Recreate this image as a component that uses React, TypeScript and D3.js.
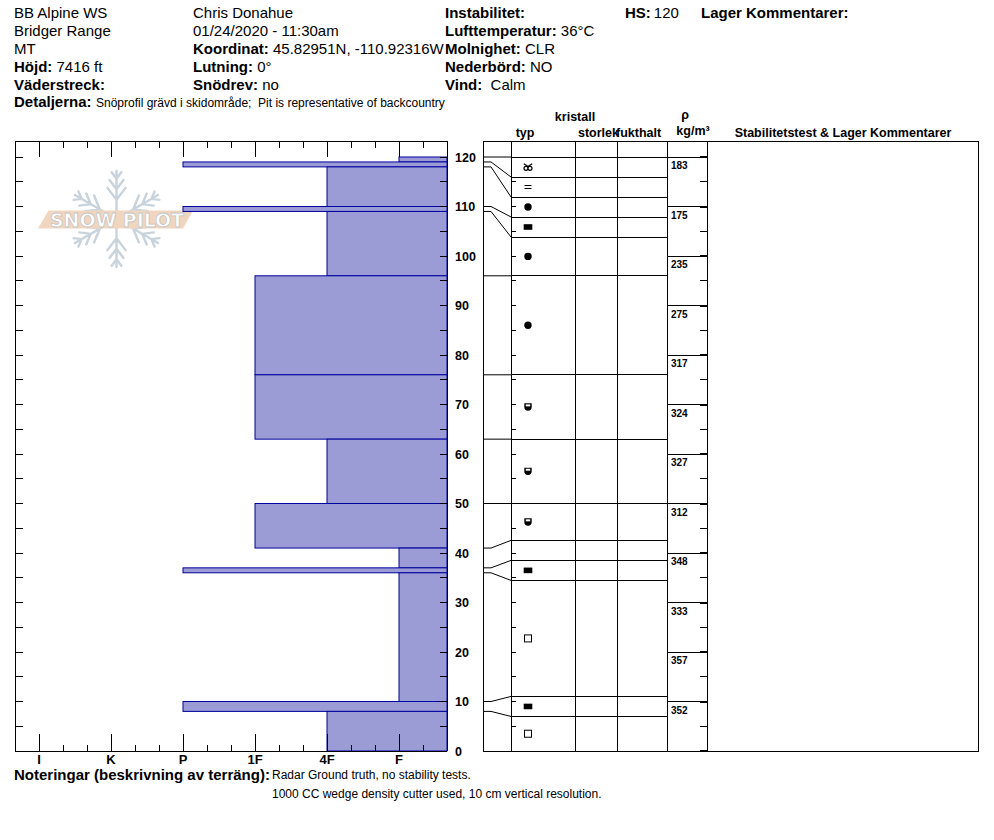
import * as d3 from 'd3';

// hardness scale, left (soft) to right (hard) as printed on the axis
const hardnessLabels = ['I', 'K', 'P', '1F', '4F', 'F'];

// layers (cm above ground)
const layerTop = [120, 119, 118, 110, 109, 96, 76, 63, 50, 41, 37, 36, 10, 8];
const layerBottom = [119, 118, 110, 109, 96, 76, 63, 50, 41, 37, 36, 10, 8, 0];
const layerHardness = ['F', 'P', '4F', 'P', '4F', '1F', '1F', '4F', '1F', 'F', 'P', 'F', 'P', '4F'];
const layerGrain = ['MFcl', 'MFcr', 'RG', 'IF', 'RG', 'RG', 'RGxf', 'RGxf', 'RGxf', '', 'IF', 'FC', 'IF', 'FC'];

// density samples, 10 cm each
const densityTop = [120, 110, 100, 90, 80, 70, 60, 50, 40, 30, 20, 10];
const densityValue = [183, 175, 235, 275, 317, 324, 327, 312, 348, 333, 357, 352];

const depthTicks = d3.range(0, 121, 10);

const FONT = '"Liberation Sans", Arial, Helvetica, sans-serif';
const BAR_FILL = '#9b9bd6';
const BAR_STROKE = '#00009c';

const W = 994;
const H = 840;

// left plot box
const plotLeft = 15;
const plotRight = 447;
const plotTop = 141;
const plotBottom = 751;

// table columns
const tabLeft = 483;
const colType = 511;
const colSize = 575;
const colMoist = 617;
const colDens = 667;
const colComment = 707;
const tabRight = 978;

const yDepth = d3.scaleLinear().domain([0, 120]).range([plotBottom, 157]);
const xHard = d3.scaleLinear().domain([-1 / 3, 5 + 2 / 3]).range([plotLeft, plotRight]);
const hardIdx = (h: string) => hardnessLabels.indexOf(h);

// spread layer boundaries so every table row is at least minGap tall
function layoutRows(bounds: number[], minGap: number) {
  const y = bounds.map(d => yDepth(d));
  const last = y.length - 1;
  for (let i = 0; i < last; i++) {
    if (y[i + 1] - y[i] < minGap) {
      const mid = (y[i] + y[i + 1]) / 2;
      y[i] = mid - minGap / 2;
      y[i + 1] = mid + minGap / 2;
    }
  }
  y[last] = yDepth(bounds[last]);
  for (let i = last - 1; i >= 0; i--) y[i] = Math.min(y[i], y[i + 1] - minGap);
  y[0] = yDepth(bounds[0]);
  for (let i = 1; i <= last; i++) y[i] = Math.max(y[i], y[i - 1] + minGap);
  return y;
}

const GrainSymbol = ({ type, x, y }: { type: string; x: number; y: number }) => {
  switch (type) {
    case 'RG':
      return <circle cx={x} cy={y} r={3.7} fill="#000" />;
    case 'IF':
      return <rect x={x - 4.3} y={y - 2.8} width={8.6} height={5.6} fill="#000" />;
    case 'FC':
      return <rect x={x - 3.5} y={y - 3.5} width={7} height={7} fill="#fff" stroke="#000" strokeWidth={1} />;
    case 'MFcr':
      return (
        <g stroke="#000" strokeWidth={1}>
          <line x1={x - 3.5} x2={x + 3.5} y1={y - 1.5} y2={y - 1.5} />
          <line x1={x - 3.5} x2={x + 3.5} y1={y + 1.5} y2={y + 1.5} />
        </g>
      );
    case 'MFcl':
      return (
        <g fill="#fff" stroke="#000" strokeWidth={1.2}>
          <circle cx={x - 2} cy={y + 1.3} r={2} />
          <circle cx={x + 2} cy={y + 1.3} r={2} />
          <path d={`M${x - 4.2},${y - 3.2} L${x},${y - 0.5} L${x + 4.2},${y - 3.2}`} fill="none" />
        </g>
      );
    case 'RGxf':
      return (
        <g>
          <path d={`M${x - 3.7},${y - 3.7} H${x + 3.7} V${y} A3.7,3.7 0 0 1 ${x - 3.7},${y} Z`} fill="#000" />
          <rect x={x - 2.2} y={y - 2.6} width={4.4} height={2} fill="#fff" />
        </g>
      );
    default:
      return null;
  }
};

const Logo = () => {
  const cx = 116.5;
  const cy = 219;
  const r = 48;
  const arms = d3.range(6).map(i => (i * Math.PI) / 3 - Math.PI / 2);
  const segs: string[] = [];
  arms.forEach(a => {
    const ux = Math.cos(a);
    const uy = Math.sin(a);
    segs.push(`M${cx},${cy}L${cx + ux * r},${cy + uy * r}`);
    [0.4, 0.62, 0.84].forEach((t, k) => {
      const bx = cx + ux * r * t;
      const by = cy + uy * r * t;
      const len = 15 - k * 3.5;
      [-1, 1].forEach(s => {
        const b = a + s * 0.65;
        segs.push(`M${bx},${by}L${bx + Math.cos(b) * len},${by + Math.sin(b) * len}`);
      });
    });
  });
  return (
    <g>
      <path d={segs.join('')} stroke="#c8d3db" strokeWidth={2.4} fill="none" strokeLinecap="round" />
      <path d="M38,228.5 L48.5,210.5 L193,210.5 L183,228.5 Z" fill="#f1d6bf" />
      <text
        x={117}
        y={226.5}
        textAnchor="middle"
        fontFamily="'DejaVu Sans', sans-serif"
        fontWeight="bold"
        fontSize={19}
        textLength={134}
        lengthAdjust="spacingAndGlyphs"
        fill="#fff"
        stroke="#c4c4c4"
        strokeWidth={0.8}
      >
        SNOW PILOT
      </text>
    </g>
  );
};

const Label = ({ x, y, bold, text, size = 15 }: { x: number; y: number; bold: string; text?: string; size?: number }) => (
  <text x={x} y={y} fontSize={size}>
    <tspan fontWeight="bold">{bold}</tspan>
    {text ? <tspan>{text}</tspan> : null}
  </text>
);

export default function App() {
  const tableBounds = [...layerTop, layerBottom[layerBottom.length - 1]];
  const rowY = layoutRows(tableBounds, 20);
  const minorHard = d3.range(-1, 18);
  const depth5 = d3.range(0, 121, 5);
  const headY = (i: number) => 17.5 + 18 * i;

  return (
    <svg width={W} height={H} style={{ position: 'absolute', left: 0, top: 0, background: '#fff' }} fontFamily={FONT}>
      <rect width={W} height={H} fill="#fff" />

      {/* header */}
      <g fill="#000">
        <text x={14} y={headY(0)} fontSize={15}>BB Alpine WS</text>
        <text x={14} y={headY(1)} fontSize={15}>Bridger Range</text>
        <text x={14} y={headY(2)} fontSize={15}>MT</text>
        <Label x={14} y={headY(3)} bold="Höjd:" text=" 7416 ft" />
        <Label x={14} y={headY(4)} bold="Väderstreck:" />

        <text x={193} y={headY(0)} fontSize={15}>Chris Donahue</text>
        <text x={193} y={headY(1)} fontSize={15}>01/24/2020 - 11:30am</text>
        <Label x={193} y={headY(2)} bold="Koordinat:" text=" 45.82951N, -110.92316W" />
        <Label x={193} y={headY(3)} bold="Lutning:" text=" 0°" />
        <Label x={193} y={headY(4)} bold="Snödrev:" text=" no" />

        <Label x={445} y={headY(0)} bold="Instabilitet:" />
        <Label x={445} y={headY(1)} bold="Lufttemperatur:" text=" 36°C" />
        <Label x={445} y={headY(2)} bold="Molnighet:" text=" CLR" />
        <Label x={445} y={headY(3)} bold="Nederbörd:" text=" NO" />
        <Label x={445} y={headY(4)} bold="Vind:" text={'\u00a0 Calm'} />

        <Label x={625} y={headY(0)} bold="HS:" text={'\u2009120'} />
        <Label x={701} y={headY(0)} bold="Lager Kommentarer:" />

        <text x={14} y={107} fontSize={15} fontWeight="bold">Detaljerna:</text>
        <text x={96} y={107} fontSize={12}>{'Snöprofil grävd i skidområde;\u00a0 Pit is representative of backcountry'}</text>
      </g>

      <Logo />

      {/* hardness bars */}
      <g>
        {layerTop.map((t, i) => {
          const x = xHard(hardIdx(layerHardness[i]));
          const y0 = yDepth(t);
          const y1 = yDepth(layerBottom[i]);
          return (
            <rect key={i} x={x} y={y0} width={plotRight - x} height={y1 - y0}
              fill={BAR_FILL} stroke={BAR_STROKE} strokeWidth={1} />
          );
        })}
      </g>

      {/* plot frame and ticks */}
      <g stroke="#000" strokeWidth={1} shapeRendering="crispEdges">
        <line x1={plotLeft} x2={plotRight} y1={plotTop} y2={plotTop} />
        <line x1={plotLeft} x2={plotRight} y1={plotBottom} y2={plotBottom} />
        <line x1={plotLeft} x2={plotLeft} y1={plotTop} y2={plotBottom} />
        <line x1={plotRight} x2={plotRight} y1={plotTop} y2={plotBottom} />
        {minorHard.map(k => {
          const x = xHard(k / 3);
          const major = k % 3 === 0 && k >= 0 && k <= 15;
          return (
            <g key={k}>
              <line x1={x} x2={x} y1={plotTop} y2={plotTop + (major ? 16 : 7)} />
              <line x1={x} x2={x} y1={plotBottom} y2={plotBottom - (major ? 17 : 6)} />
            </g>
          );
        })}
        {depth5.map(d => (
          <g key={d}>
            <line x1={plotLeft} x2={plotLeft + 8} y1={yDepth(d)} y2={yDepth(d)} />
            <line x1={plotRight - 7} x2={plotRight} y1={yDepth(d)} y2={yDepth(d)} />
          </g>
        ))}
      </g>

      {/* depth labels */}
      <g fontSize={12.5} fontWeight="bold" fill="#000">
        {depthTicks.map(d => (
          <text key={d} x={455} y={yDepth(d) + 4.5}>{d}</text>
        ))}
      </g>

      {/* hardness labels */}
      <g fontSize={13} fontWeight="bold" textAnchor="middle" fill="#000">
        {hardnessLabels.map((h, i) => (
          <text key={h} x={xHard(i)} y={764}>{h}</text>
        ))}
      </g>

      {/* table headings */}
      <g fontSize={12.5} fontWeight="bold" fill="#000">
        <text x={575} y={121} textAnchor="middle">kristall</text>
        <text x={525} y={137} textAnchor="middle">typ</text>
        <text x={578} y={137}>storlek</text>
        <text x={616} y={137}>fukthalt</text>
        <text x={685} y={119} textAnchor="middle">ρ</text>
        <text x={693} y={135} textAnchor="middle">kg/m³</text>
        <text x={843} y={137} textAnchor="middle">Stabilitetstest &amp; Lager Kommentarer</text>
      </g>

      {/* table frame */}
      <g stroke="#000" strokeWidth={1} fill="none" shapeRendering="crispEdges">
        <rect x={tabLeft} y={plotTop} width={tabRight - tabLeft} height={plotBottom - plotTop} />
        {[colType, colSize, colMoist, colDens, colComment].map(x => (
          <line key={x} x1={x} x2={x} y1={plotTop} y2={plotBottom} />
        ))}
        {depth5.map(d => (
          <g key={d}>
            <line x1={colType} x2={colType + 5} y1={yDepth(d)} y2={yDepth(d)} />
            <line x1={colComment - 7} x2={colComment} y1={yDepth(d)} y2={yDepth(d)}
              strokeWidth={d % 10 === 0 ? 2 : 1} />
          </g>
        ))}
      </g>

      {/* layer rows and connectors */}
      <g stroke="#000" strokeWidth={1} fill="none">
        {tableBounds.slice(0, -1).map((d, i) => {
          const y0 = yDepth(d);
          const y1 = rowY[i];
          return (
            <g key={i}>
              <path d={`M${tabLeft},${y0} H${tabLeft + 8} L${colType},${y1}`} />
              <line x1={colType} x2={colDens} y1={y1} y2={y1} shapeRendering="crispEdges" />
            </g>
          );
        })}
      </g>

      {/* grain symbols */}
      {layerGrain.map((g, i) => (
        <GrainSymbol key={i} type={g} x={528} y={(rowY[i] + rowY[i + 1]) / 2} />
      ))}

      {/* density */}
      <g>
        {densityTop.map((d, i) => (
          <g key={d}>
            <line x1={colDens} x2={colComment} y1={yDepth(d)} y2={yDepth(d)} stroke="#000" shapeRendering="crispEdges" />
            <text x={671} y={yDepth(d) + 12} fontSize={10} fontWeight="bold" fill="#000">{densityValue[i]}</text>
          </g>
        ))}
      </g>

      {/* notes */}
      <g fill="#000">
        <text x={14} y={780} fontSize={15} fontWeight="bold">Noteringar (beskrivning av terräng):</text>
        <text x={272} y={779} fontSize={12}>Radar Ground truth, no stability tests.</text>
        <text x={272} y={798} fontSize={12}>1000 CC wedge density cutter used, 10 cm vertical resolution.</text>
      </g>
    </svg>
  );
}
